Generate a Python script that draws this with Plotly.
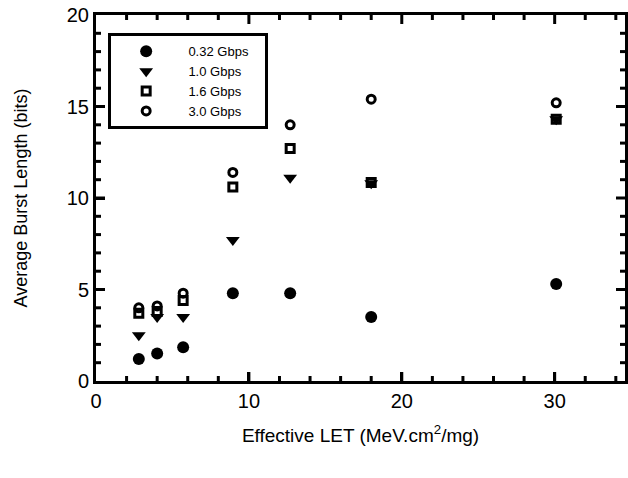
import plotly.graph_objects as go

let_x = [2.8, 4.0, 5.7, 8.95, 12.7, 18.0, 30.1]
s032 = [1.2, 1.5, 1.85, 4.8, 4.8, 3.5, 5.3]
s10 = [2.5, 3.5, 3.5, 7.7, 11.1, 10.8, 14.3]
s16 = [3.7, 3.8, 4.4, 10.6, 12.7, 10.85, 14.3]
s30 = [4.0, 4.1, 4.8, 11.4, 14.0, 15.4, 15.2]
names = ["0.32 Gbps", "1.0 Gbps", "1.6 Gbps", "3.0 Gbps"]

x_major = [10, 20, 30]
x_minor = [2, 4, 6, 8, 12, 14, 16, 18, 22, 24, 26, 28, 32, 34]
y_major = [5, 10, 15]
y_minor = [1, 2, 3, 4, 6, 7, 8, 9, 11, 12, 13, 14, 16, 17, 18, 19]

x_range = [0, 34.6]
y_range = [0, 20]

W, H = 628, 478
ML, MR, MT, MB = 96, 3, 15, 97
PW, PH = W - ML - MR, H - MT - MB

pad = "\u00a0" * 2
fig = go.Figure()
fig.add_trace(go.Scatter(x=let_x, y=s032, mode="markers", name=pad + names[0] + "\u00a0" * 3,
                         marker=dict(symbol="circle", size=12, color="black")))
fig.add_trace(go.Scatter(x=let_x, y=s10, mode="markers", name=pad + names[1],
                         marker=dict(symbol="triangle-down", size=12, color="black")))
fig.add_trace(go.Scatter(x=let_x, y=s16, mode="markers", name=pad + names[2],
                         marker=dict(symbol="square-open", size=8, color="black", line=dict(width=3, color="black"))))
fig.add_trace(go.Scatter(x=let_x, y=s30, mode="markers", name=pad + names[3],
                         marker=dict(symbol="circle-open", size=8, color="black", line=dict(width=3, color="black"))))

# inward tick marks on all four sides (axis decoration)
tick_line = dict(color="black", width=3)
for vals, length in ((x_major, 9), (x_minor, 5)):
    frac = length / PH
    for v in vals:
        fig.add_shape(type="line", xref="x", yref="paper", x0=v, x1=v, y0=0, y1=frac, line=tick_line)
        fig.add_shape(type="line", xref="x", yref="paper", x0=v, x1=v, y0=1, y1=1 - frac, line=tick_line)
for vals, length in ((y_major, 9), (y_minor, 5)):
    frac = length / PW
    for v in vals:
        fig.add_shape(type="line", xref="paper", yref="y", y0=v, y1=v, x0=0, x1=frac, line=tick_line)
        fig.add_shape(type="line", xref="paper", yref="y", y0=v, y1=v, x0=1, x1=1 - frac, line=tick_line)


def axis(dtick, rng, title, tsize, standoff):
    return dict(range=rng, dtick=dtick,
                showline=True, linecolor="black", linewidth=3, mirror=True,
                ticks="inside", tickwidth=3, ticklen=9, tickcolor="#000000",
                showgrid=False,
                tickfont=dict(size=20),
                title=dict(text=title, standoff=standoff, font=dict(size=tsize)))


fig.update_layout(
    template="none",
    width=W, height=H,
    margin=dict(l=ML, r=MR, t=MT, b=MB),
    font=dict(family="Liberation Sans, Arial", color="black"),
    showlegend=True,
    legend=dict(x=0.023, y=0.95, xanchor="left", yanchor="top",
                bordercolor="black", borderwidth=3, bgcolor="white",
                font=dict(size=13),
                tracegroupgap=0, itemwidth=60),
    xaxis=axis(10, x_range, "Effective LET (MeV.cm<sup>2</sup>/mg)", 19, 18),
    yaxis=axis(5, y_range, "Average Burst Length (bits)", 18, 35),
)

fig.write_html("out.html", config={"displayModeBar": False},
               post_script="document.body.style.margin='0';document.body.style.overflow='hidden';")
